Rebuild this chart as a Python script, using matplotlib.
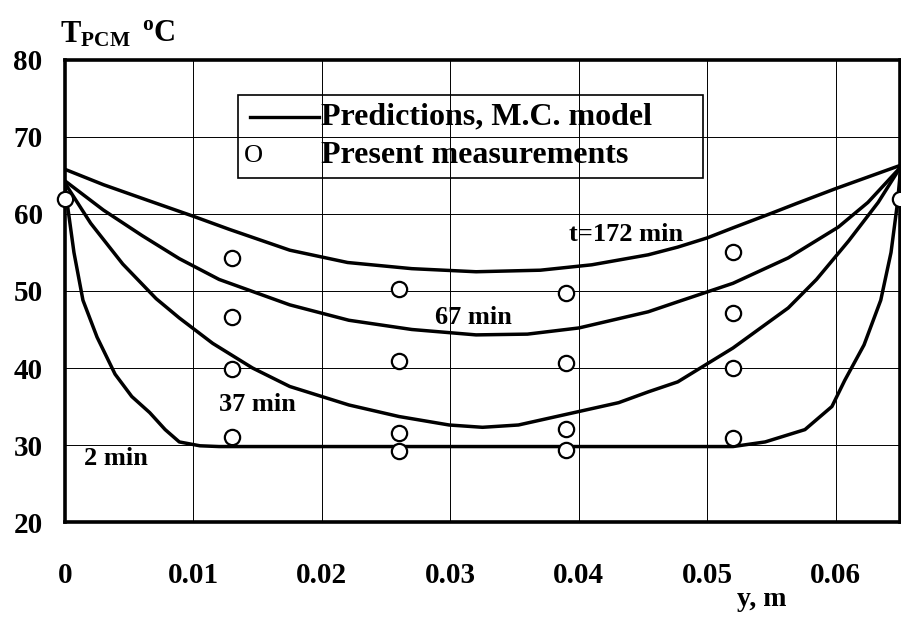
import numpy as np
import matplotlib
matplotlib.use("Agg")
import matplotlib.pyplot as plt
from matplotlib.patches import Rectangle
from matplotlib.lines import Line2D

plt.rcParams['font.family'] = ['Liberation Serif', 'DejaVu Serif']
plt.rcParams['font.weight'] = 'bold'
plt.rcParams['mathtext.fontset'] = 'custom'
plt.rcParams['mathtext.rm'] = 'Liberation Serif:bold'
plt.rcParams['mathtext.bf'] = 'Liberation Serif:bold'

# Curvas del modelo (y en m, T en °C)
y_172 = [0.000, 0.003, 0.0064, 0.010, 0.0128, 0.0175, 0.022, 0.027, 0.032, 0.037,
         0.041, 0.0454, 0.0477, 0.050, 0.052, 0.055, 0.057, 0.060, 0.0625, 0.065]
t_172 = [65.8, 63.8, 61.8, 59.7, 58.0, 55.3, 53.7, 52.9, 52.5, 52.7,
         53.4, 54.7, 55.7, 56.9, 58.2, 60.1, 61.4, 63.3, 64.8, 66.3]

y_67 = [0.000, 0.003, 0.006, 0.0089, 0.012, 0.0175, 0.0221, 0.027, 0.032, 0.036,
        0.040, 0.0454, 0.0477, 0.052, 0.0563, 0.0602, 0.0625, 0.065]
t_67 = [64.3, 60.5, 57.2, 54.2, 51.5, 48.2, 46.2, 45.0, 44.3, 44.4,
        45.2, 47.3, 48.6, 51.0, 54.3, 58.3, 61.5, 66.0]

y_37 = [0.000, 0.002, 0.0045, 0.0071, 0.0089, 0.0115, 0.0146, 0.0175, 0.0221, 0.026,
        0.0299, 0.0325, 0.0353, 0.0431, 0.0454, 0.0477, 0.052, 0.0563, 0.0585, 0.061,
        0.0633, 0.065]
t_37 = [64.0, 58.8, 53.5, 49.0, 46.5, 43.2, 40.0, 37.6, 35.2, 33.7,
        32.6, 32.3, 32.6, 35.5, 36.9, 38.2, 42.6, 47.8, 51.5, 56.5,
        61.5, 66.0]

y_2 = [0.000, 0.0007, 0.0014, 0.0025, 0.0039, 0.0052, 0.0066, 0.0078, 0.0089, 0.0105,
       0.012, 0.030, 0.052, 0.0545, 0.0576, 0.0597, 0.0607, 0.0622, 0.0635, 0.0643,
       0.0648, 0.065]
t_2 = [63.5, 55.0, 48.8, 44.0, 39.2, 36.3, 34.2, 32.0, 30.4, 29.9,
       29.8, 29.8, 29.8, 30.4, 32.0, 35.0, 38.4, 43.0, 48.8, 55.0,
       61.4, 65.0]

# Mediciones
y_meas = [0.0, 0.013, 0.013, 0.013, 0.013, 0.026, 0.026, 0.026, 0.026,
          0.039, 0.039, 0.039, 0.039, 0.052, 0.052, 0.052, 0.052, 0.065]
t_meas = [62.0, 54.3, 46.6, 39.9, 31.0, 50.2, 40.9, 31.6, 29.2,
          49.7, 40.6, 32.1, 29.4, 55.0, 47.1, 40.0, 30.9, 62.0]

curve_labels = ["t=172 min", "67 min", "37 min", "2 min"]
label_pos = [(0.0437, 57.4), (0.0318, 46.5), (0.0150, 35.2), (0.0040, 28.3)]

x_ticks = [0, 0.01, 0.02, 0.03, 0.04, 0.05, 0.06]
x_tick_labels = ["0", "0.01", "0.02", "0.03", "0.04", "0.05", "0.06"]
y_ticks = [20, 30, 40, 50, 60, 70, 80]


def main():
    fig = plt.figure(figsize=(9.01, 6.26), dpi=100)
    ax = fig.add_axes([0.0721, 0.1661, 0.9268, 0.7381])

    for yy, tt in [(y_172, t_172), (y_67, t_67), (y_37, t_37), (y_2, t_2)]:
        ax.plot(yy, tt, color='black', lw=2.5, solid_capstyle='round',
                solid_joinstyle='round', zorder=3)

    ax.plot(y_meas, t_meas, 'o', ms=11, mfc='white', mec='black', mew=1.6,
            zorder=4, clip_on=False)

    for txt, (px, py) in zip(curve_labels, label_pos):
        ax.text(px, py, txt, fontsize=19, ha='center', va='center', zorder=5)

    ax.set_xlim(0, 0.065)
    ax.set_ylim(20, 80)
    ax.set_xticks(x_ticks)
    ax.set_xticklabels(x_tick_labels)
    ax.set_yticks(y_ticks)
    ax.tick_params(length=0, labelsize=21)
    ax.tick_params(axis='x', pad=29)
    ax.tick_params(axis='y', pad=16)
    ax.grid(True, color='black', lw=0.7, zorder=1)
    for s in ax.spines.values():
        s.set_linewidth(2.6)

    # Leyenda
    ax.add_patch(Rectangle((0.207, 0.745), 0.557, 0.179, transform=ax.transAxes,
                           fill=False, ec='black', lw=1.2, zorder=5))
    ax.add_line(Line2D([0.222, 0.304], [0.876, 0.876], transform=ax.transAxes,
                       color='black', lw=2.4, zorder=5))
    ax.text(0.307, 0.876, "Predictions, M.C. model", transform=ax.transAxes,
            fontsize=23, va='center', ha='left', zorder=5)
    ax.text(0.214, 0.793, "O", transform=ax.transAxes, fontsize=19,
            fontweight='normal', va='center', ha='left', zorder=5)
    ax.text(0.307, 0.793, "Present measurements", transform=ax.transAxes,
            fontsize=23, va='center', ha='left', zorder=5)

    fig.text(0.067, 0.945, r"$\mathbf{T_{PCM}}$", fontsize=22, ha='left', va='center')
    fig.text(0.158, 0.947, r"$\mathbf{^oC}$", fontsize=22, ha='left', va='center')
    fig.text(0.846, 0.042, "y, m", fontsize=20, ha='center', va='center')

    fig.savefig("out.png", dpi=100)


if __name__ == "__main__":
    main()
